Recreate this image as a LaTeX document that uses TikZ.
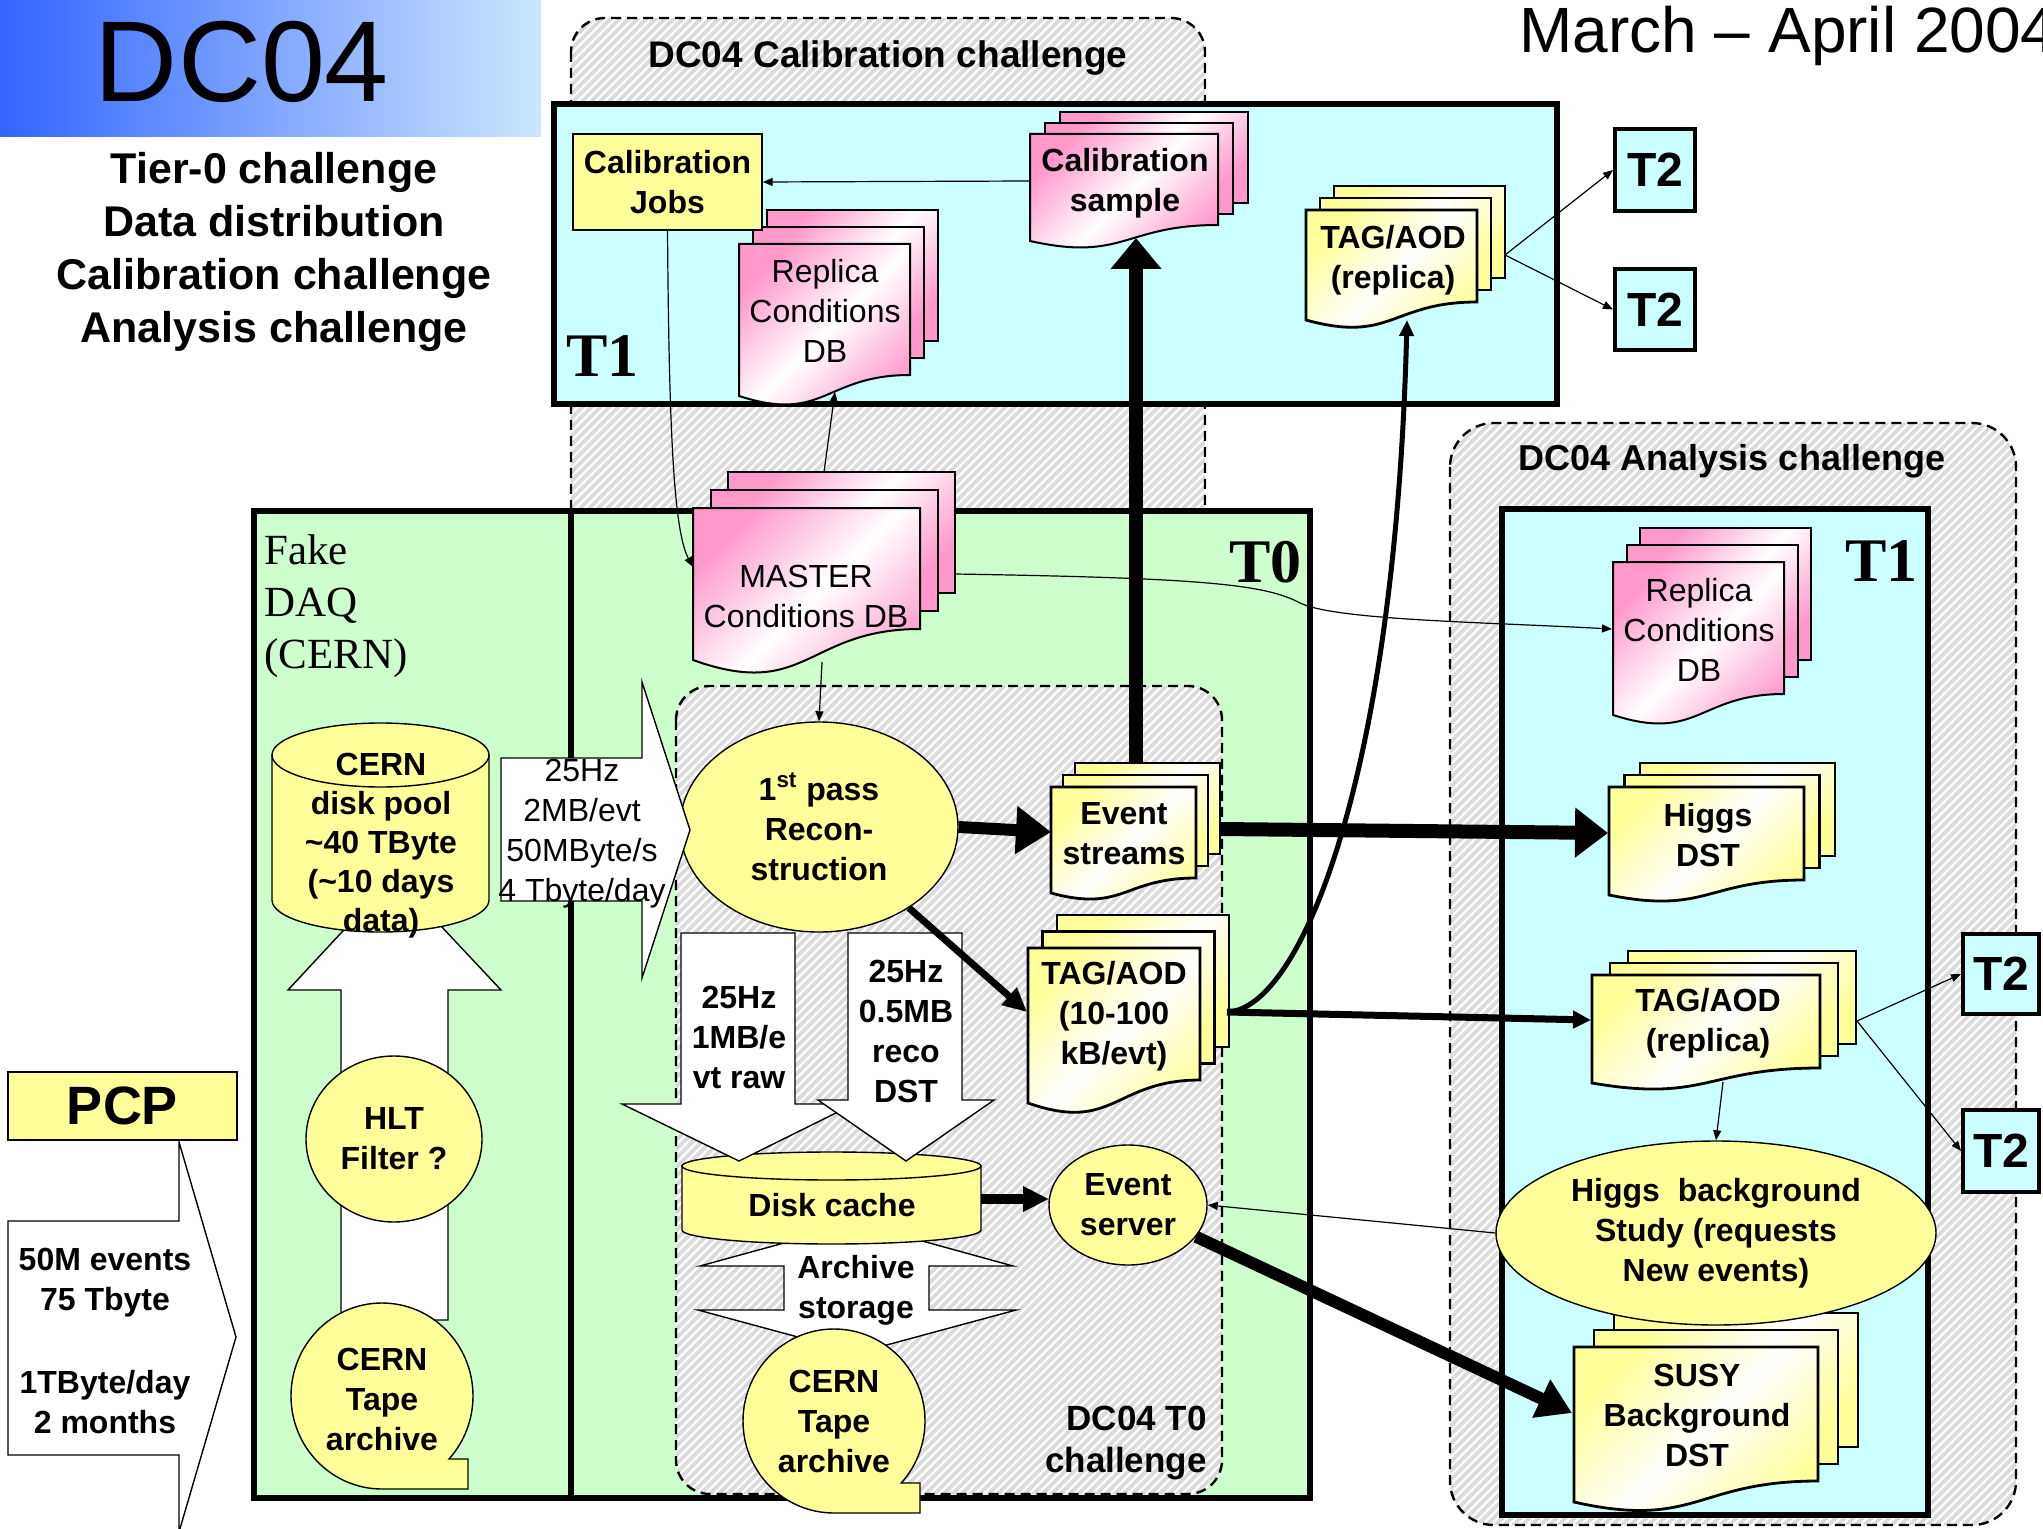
\documentclass[tikz,border=0pt]{standalone}
\usepackage{fontspec}
\setmainfont{Liberation Sans}
\newfontfamily\serifT{Liberation Serif}
\usetikzlibrary{arrows.meta,shapes.geometric}
\definecolor{docpink}{RGB}{255,153,204}
\definecolor{docyellow}{RGB}{255,255,153}
\definecolor{boxcyan}{RGB}{204,255,255}
\definecolor{boxgreen}{RGB}{204,255,204}
\definecolor{hatchgray}{RGB}{218,218,218}
\definecolor{blueL}{RGB}{51,102,255}
\definecolor{blueR}{RGB}{204,230,255}
\newcommand\fsz[2]{\fontsize{#1}{#2}\selectfont}
\tikzset{
  bigbox/.style={draw=black, line width=3pt},
  dashregion/.style={draw=black, line width=1.2pt, dash pattern=on 5pt off 3pt},
  blockarrow/.style={draw=black, line width=0.7pt, fill=white},
  yel/.style={fill=docyellow, draw=black, line width=0.7pt},
  pinkdoc/.style={draw=black, line width=1pt, top color=docpink, bottom color=docpink, middle color=white, shading angle=45},
  yeldoc/.style={draw=black, line width=1.4pt, top color=docyellow, bottom color=docyellow, middle color=white, shading angle=45},
  tb/.style={font=\fsz{16}{20}\bfseries, align=center, inner sep=0pt},
  tr/.style={font=\fsz{16}{20}, align=center, inner sep=0pt},
  ell/.style={ellipse, fill=docyellow, draw=black, line width=0.7pt, inner sep=0pt, font=\fsz{16}{20}\bfseries, align=center},
  t2box/.style={draw=black, line width=2pt, fill=boxcyan, font=\fsz{24}{28}\bfseries, inner sep=0pt},
  thinarrow/.style={draw=black, line width=0.6pt, -{Triangle[length=5pt,width=4pt]}},
  tiername/.style={font=\serifT\bfseries\fsz{31}{36}, inner sep=0pt, anchor=base west},
  hatchline/.style={draw=white, line width=1.1pt},
}
% x0 y0 x1 yR yL dx dy style
\newcommand\docshape[8]{%
  \foreach \k in {2,1} {
    \draw[#8] ({#1+\k*#6},{#2-\k*#7}) rectangle ({#3+\k*#6},{#4-\k*#7});
  }
  \draw[#8] (#1,#2) -- (#3,#2) -- (#3,#4)
    .. controls ({(#1+#3)/2},#4) and ({(#1+#3)/2},{#5+1.314*(#5-#4)}) .. (#1,#5) -- cycle;
}
% x0 x1 ytop ybottom ry
\newcommand\cylshape[5]{%
  \filldraw[yel] (#1,#3) -- (#1,#4) arc[start angle=180, end angle=0, x radius={(#2-#1)/2}, y radius=#5] -- (#2,#3) -- cycle;
  \filldraw[yel] ({(#1+#2)/2},#3) ellipse[x radius={(#2-#1)/2}, y radius=#5];
}
% cx cy rx ry xtail ytail
\newcommand\tapeshape[6]{%
  \filldraw[yel] (#1,{#2+#4}) arc[start angle=90, end angle={360+asin((#6-#2)/#4)}, x radius=#3, y radius=#4]
    -- (#5,#6) -- (#5,{#2+#4}) -- cycle;
}
\begin{document}
\begin{tikzpicture}[x=0.5pt, y=-0.5pt]
\useasboundingbox (0,0) rectangle (2043,1529);

% ---------- header ----------
\shade[left color=blueL, right color=blueR] (0,0) rectangle (541,137);
\node[font=\fsz{57.5}{60}, inner sep=0pt] (dc) at (242,62) {DC04};
\node[font=\fsz{21.5}{26.5}\bfseries, align=center, inner sep=0pt] (sub) at (274,252)
  {Tier-0 challenge\\Data distribution\\Calibration challenge\\Analysis challenge};
\node[font=\fsz{32}{36}, anchor=base west, inner sep=0pt] (date) at (1519,53) {March -- April 2004};

% ---------- calibration challenge region ----------
\begin{scope}
  \clip[rounded corners=17pt] (571,18) rectangle (1205,560);
  \fill[hatchgray] (571,18) rectangle (1205,560);
  \foreach \x in {29,38,...,1210} \draw[hatchline] (\x,560) -- ++(542,-542);
\end{scope}
\draw[dashregion, rounded corners=17pt] (571,18) rectangle (1205,560);
\node[font=\fsz{18.5}{22}\bfseries, anchor=base, inner sep=0pt] (calT) at (888,68) {DC04 Calibration challenge};

% ---------- analysis challenge region ----------
\begin{scope}
  \clip[rounded corners=22pt] (1450,423) rectangle (2016,1525);
  \fill[hatchgray] (1450,423) rectangle (2016,1525);
  \foreach \x in {348,357,...,2020} \draw[hatchline] (\x,1525) -- ++(1102,-1102);
\end{scope}
\draw[dashregion, rounded corners=22pt] (1450,423) rectangle (2016,1525);
\node[font=\fsz{18}{22}\bfseries, anchor=base, inner sep=0pt] (anaT) at (1732,471) {DC04 Analysis challenge};

% ---------- T1 (top) ----------
\draw[bigbox, fill=boxcyan] (554,104) rectangle (1557,404);
\node[tiername] (t1a) at (566,377) {T1};

% ---------- T0 ----------
\draw[bigbox, fill=boxgreen] (254,511) rectangle (1310,1498);
\draw[line width=3pt] (571,511) -- (571,1498);
\node[tiername] (t0) at (1229,582) {T0};
\node[font=\serifT\fsz{21.5}{26}, align=left, anchor=west, inner sep=0pt] (fake) at (264,606) {Fake\\DAQ\\(CERN)};

% ---------- T0 challenge region ----------
\begin{scope}
  \clip[rounded corners=17pt] (676,686) rectangle (1222,1494);
  \fill[hatchgray] (676,686) rectangle (1222,1494);
  \foreach \x in {-132,-123,...,1225} \draw[hatchline] (\x,1494) -- ++(808,-808);
\end{scope}
\draw[dashregion, rounded corners=17pt] (676,686) rectangle (1222,1494);

% ---------- T1 (analysis) ----------
\draw[bigbox, fill=boxcyan] (1502,509) rectangle (1928,1515);
\node[tiername] (t1b) at (1845,581) {T1};

% ---------- T2 boxes ----------
\node[t2box, minimum width=40pt, minimum height=41pt] (t2a) at (1655,170) {T2};
\node[t2box, minimum width=40pt, minimum height=40.5pt] (t2b) at (1655,309.5) {T2};
\node[t2box, minimum width=38pt, minimum height=40pt] (t2c) at (2001,974) {T2};
\node[t2box, minimum width=38pt, minimum height=41pt] (t2d) at (2001,1151) {T2};

% ---------- Fake DAQ column ----------
\draw[blockarrow] (341,1320) -- (341,990) -- (288,990) -- (394,876) -- (501,990) -- (448,990) -- (448,1320) -- cycle;
\cylshape{272}{489}{755}{900}{32}
\node[tb, font=\fsz{16}{19.5}\bfseries] (pool) at (381,846) {CERN\\disk pool\\\textasciitilde40 TByte\\(\textasciitilde10 days\\data)};
\node[ell, minimum width=88pt, minimum height=83pt] (hlt) at (394,1139) {HLT\\Filter ?};
\tapeshape{382}{1396}{91}{93}{468}{1459}
\node[tb] (tapeL) at (382,1399) {CERN\\Tape\\archive};

% ---------- PCP ----------
\draw[blockarrow] (8,1221) -- (179,1221) -- (179,1142) -- (236,1337) -- (179,1532) -- (179,1455) -- (8,1455) -- cycle;
\node[yel, font=\fsz{27}{30}\bfseries, inner sep=0pt, minimum width=114.5pt, minimum height=34pt] (pcp) at (122.5,1106) {PCP};
\node[tb] (pcp1) at (105,1283) {50M events\\75 Tbyte};
\node[tb] (pcp2) at (105,1402) {1TByte/day\\2 months};

% ---------- reconstruction ----------
\node[ell, minimum width=139pt, minimum height=105pt] (recon) at (819,827) {1\textsuperscript{st} pass\\Recon-\\struction};
\draw[blockarrow] (501,758) -- (642,758) -- (642,682) -- (690,830) -- (642,978) -- (642,901) -- (501,901) -- cycle;
\node[tr] (rate) at (582,834) {25Hz\\2MB/evt\\50MByte/s\\4 Tbyte/day};

% ---------- disk cache and archive ----------
\draw[blockarrow] (857,1223) -- (1013,1266) -- (929,1266) -- (929,1310) -- (1016,1310) -- (857,1353) -- (698,1310) -- (784,1310) -- (784,1266) -- (700,1266) -- cycle;
\cylshape{682}{981}{1166}{1230}{14}
\node[tb] (cache) at (832,1205) {Disk cache};
\draw[blockarrow] (681,933) -- (795,933) -- (795,1104) -- (854,1104) -- (739,1161) -- (622,1104) -- (681,1104) -- cycle;
\draw[blockarrow] (848,933) -- (962,933) -- (962,1100) -- (994,1100) -- (906,1161) -- (818,1100) -- (848,1100) -- cycle;
\node[tb] (raw) at (739,1037) {25Hz\\1MB/e\\vt raw};
\node[tb] (dst) at (906,1031) {25Hz\\0.5MB\\reco\\DST};
\node[tb] (archT) at (856,1290) {Archive\\storage};
\tapeshape{834}{1421}{91}{92}{920}{1483}
\node[tb] (tapeT) at (834,1421) {CERN\\Tape\\archive};
\node[font=\fsz{17.5}{21}\bfseries, align=right, anchor=east, inner sep=0pt] (t0ch) at (1207,1443) {DC04 T0\\challenge};

\node[ell, minimum width=79pt, minimum height=60pt] (server) at (1128,1205) {Event\\server};

% ---------- documents ----------
\docshape{739}{244}{910}{375}{396}{14}{17}{pinkdoc}
\node[tr] (repA) at (825,311) {Replica\\Conditions\\DB};
\docshape{1030}{134}{1218}{225}{241}{15}{11}{pinkdoc}
\node[tb] (calS) at (1125,183) {Calibration\\sample};
\docshape{1306}{210}{1477}{302}{320}{14}{12}{yeldoc}
\node[tb] (tagA) at (1393,260) {TAG/AOD\\(replica)};
\node[yel, tb, minimum width=94.5pt, minimum height=48pt] (jobs) at (667.5,182) {Calibration\\Jobs};
\docshape{693}{508}{920}{629}{660}{17.5}{18}{pinkdoc}
\node[tr] (master) at (806,596) {MASTER\\Conditions DB};
\docshape{1051}{787}{1196}{878}{893}{12}{12}{yeldoc}
\node[tb] (streams) at (1124,834) {Event\\streams};
\docshape{1028}{948}{1200}{1080}{1103}{14.5}{16.5}{yeldoc}
\node[tb] (tag10) at (1114,1016) {TAG/AOD\\(10-100\\kB/evt)};
\docshape{1613}{562}{1784}{694}{715}{13.5}{17}{pinkdoc}
\node[tr] (repB) at (1699,630) {Replica\\Conditions\\DB};
\docshape{1609}{787}{1804}{880}{895}{15.5}{12}{yeldoc}
\node[tb] (higgsdst) at (1708,835) {Higgs\\DST};
\docshape{1592}{975}{1820}{1068}{1083}{18}{12}{yeldoc}
\node[tb] (tagB) at (1708,1023) {TAG/AOD\\(replica)};
\docshape{1574}{1347}{1818}{1481}{1502}{20}{17}{yeldoc}
\node[tb] (susy) at (1697,1415) {SUSY\\Background\\DST};
\node[ell, minimum width=220pt, minimum height=92pt] (higgsbg) at (1716,1233) {Higgs\ \ background\\Study (requests\\New events)};

% ---------- connectors ----------
\coordinate (csL) at (1030,181);
\draw[thinarrow] (csL) -- (jobs.east);
\coordinate (masterL) at (693,567);
\draw[thinarrow] (jobs.south) .. controls (669,420) and (673,530) .. (masterL);
\coordinate (masterTop) at (824,472);
\coordinate (repABot) at (835,392);
\draw[thinarrow] (masterTop) -- (repABot);
\coordinate (masterR) at (955,574);
\coordinate (repBL) at (1612,629);
\draw[thinarrow] (masterR) .. controls (1200,578) and (1265,584) .. (1300,603) .. controls (1335,620) and (1480,622) .. (repBL);
\coordinate (masterBot) at (822,662);
\draw[thinarrow] (masterBot) -- (recon.north);

\coordinate (streamsL) at (1051,832);
\draw[line width=6pt, -{Triangle[length=17.5pt,width=23pt]}] (recon.east) -- (streamsL);
\coordinate (streamsR) at (1220,829);
\coordinate (higgsL) at (1608,833);
\draw[line width=7pt, -{Triangle[length=16.5pt,width=24pt]}] (streamsR) -- (higgsL);
\coordinate (streamsTop) at (1136,763);
\coordinate (calSBot) at (1136,238);
\draw[line width=7pt, -{Triangle[length=15.5pt,width=24.5pt]}] (streamsTop) -- (calSBot);
\coordinate (tag10L) at (1027,1012);
\draw[line width=3.5pt, -{Triangle[length=12pt,width=11pt]}] (recon.-42) -- (tag10L);
\coordinate (tag10R) at (1227,1012);
\coordinate (tagBL) at (1591,1020);
\draw[line width=3.5pt, -{Triangle[length=9pt,width=8.5pt]}] (tag10R) -- (tagBL);
\coordinate (tagABot) at (1407,320);
\draw[line width=2.5pt, -{Triangle[length=8pt,width=7pt]}] (tag10R) .. controls (1300,1010) and (1395,780) .. (tagABot);
\coordinate (cacheR) at (981,1199);
\coordinate (serverL) at (1049,1199);
\draw[line width=5pt, -{Triangle[length=13pt,width=12pt]}] (cacheR) -- (serverL);
\coordinate (susyL) at (1572,1413);
\draw[line width=6pt, -{Triangle[length=17pt,width=20pt]}] (server.-25) -- (susyL);
\draw[thinarrow] (higgsbg.west) -- (server.east);
\coordinate (tagBBot) at (1723,1082);
\draw[thinarrow] (tagBBot) -- (higgsbg.north);
\coordinate (tagBR) at (1857,1021);
\draw[thinarrow] (tagBR) -- (t2c.west);
\draw[thinarrow] (tagBR) -- (t2d.west);
\coordinate (tagAR) at (1505,255);
\draw[thinarrow] (tagAR) -- (t2a.west);
\draw[thinarrow] (tagAR) -- (t2b.west);
\end{tikzpicture}
\end{document}
